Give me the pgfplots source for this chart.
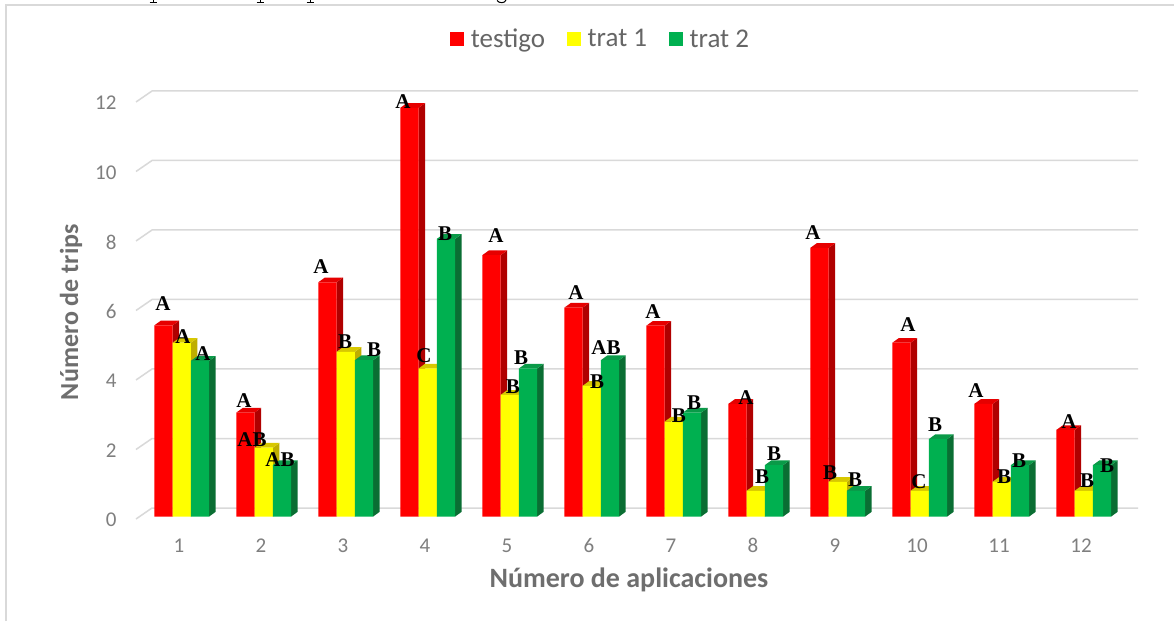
\documentclass[border=0pt]{standalone}
\usepackage{fontspec}
\usepackage{pgfplots}
\usepackage{pgfplotstable}
\pgfplotsset{compat=1.18}
\setmainfont{Carlito}
\newfontfamily\labfont{Liberation Serif}
\definecolor{tred}{HTML}{FF0000}
\definecolor{tredside}{HTML}{B00000}
\definecolor{tredtop}{HTML}{E60000}
\definecolor{tyel}{HTML}{FFFF00}
\definecolor{tyelside}{HTML}{BFAE00}
\definecolor{tyeltop}{HTML}{D8C800}
\definecolor{tgre}{HTML}{00B050}
\definecolor{tgreside}{HTML}{0A6E33}
\definecolor{tgretop}{HTML}{0A9A48}
\definecolor{gridc}{HTML}{D9D9D9}
\definecolor{tickc}{HTML}{7F7F7F}
\definecolor{titlec}{HTML}{6E6E6E}
\definecolor{legc}{HTML}{666666}
\pgfplotstableread{
group testigo trat1 trat2
1  5.50  5.00 4.48
2  2.99  1.98 1.48
3  6.74  4.74 4.50
4  11.76 4.26 7.99
5  7.52  3.50 4.26
6  6.01  3.76 4.50
7  5.49  2.73 2.99
8  3.24  0.74 1.48
9  7.73  1.00 0.74
10 5.00  0.74 2.23
11 3.24  1.00 1.48
12 2.49  0.74 1.48
}\datatab
% #1 column, #2 bar-centre shift in px, #3 side colour, #4 top colour
\newcommand{\facets}[4]{%
  \pgfplotsforeachungrouped \row in {0,...,11}{%
    \pgfplotstablegetelem{\row}{#1}\of\datatab
    \pgfmathsetmacro\vv{\pgfplotsretval}%
    \pgfmathsetmacro\xL{\row+1+(#2-9.15)/82}%
    \pgfmathsetmacro\xR{\row+1+(#2+9.15)/82}%
    \pgfmathsetmacro\xLd{\xL+0.0793}%
    \pgfmathsetmacro\xRd{\xR+0.0793}%
    \pgfmathsetmacro\vd{\vv+0.1353}%
    \edef\tmp{\noexpand\addplot[forget plot,draw=none,fill=#3,mark=none]
      coordinates {(\xR,0) (\xRd,0.1353) (\xRd,\vd) (\xR,\vv)};
      \noexpand\addplot[forget plot,draw=none,fill=#4,mark=none]
      coordinates {(\xL,\vv) (\xLd,\vd) (\xRd,\vd) (\xR,\vv)};}%
    \tmp
  }%
}
\newcommand{\gridl}[1]{%
  \pgfmathsetmacro\ga{#1-0.072}\pgfmathsetmacro\gb{#1+0.2446}%
  \edef\tmp{\noexpand\addplot[forget plot,draw=gridc,line width=1.5pt,mark=none]
    coordinates {(0.4756,\ga) (0.6707,\gb) (12.695,\gb)};}%
  \tmp
}
\begin{document}
\begin{tikzpicture}[x=1pt,y=1pt]
\useasboundingbox (0,0) rectangle (1174,621);
\fill[white] (0,0) rectangle (1174,621);
\draw[gridc,line width=2pt] (6,0) -- (6,616) -- (1174,616);
\foreach \px in {153,260,310}
  \draw[black,line width=1pt] (\px-3.5,618.5) -- (\px+3.5,618.5) (\px,618.5) -- (\px,621);
\draw[black,line width=1pt] (497,620.5) .. controls (499,617.5) and (505,617.5) .. (506,621);
\begin{axis}[
  at={(136pt,104.5pt)},anchor=south west,
  scale only axis,width=1002pt,height=417pt,
  xmin=0.4756,xmax=12.695,ymin=0,ymax=12,
  clip=false,
  axis line style={draw=none},
  major tick length=0pt,
  xtick={1,...,12},ytick={0,2,...,12},
  xtick pos=bottom,ytick pos=left,
  /pgf/number format/assume math mode=true,
  xticklabel style={font=\fontsize{21}{24}\selectfont,text=tickc,anchor=center,yshift=-29pt},
  yticklabel style={font=\fontsize{21}{24}\selectfont,text=tickc,anchor=east,xshift=-16pt,yshift=-3.5pt},
  xlabel={Número de aplicaciones},
  ylabel={Número de trips},
  xlabel style={font=\fontsize{28}{30}\selectfont\bfseries,text=titlec,at={(rel axis cs:0.492,-0.152)},anchor=center},
  ylabel style={font=\fontsize{26}{28}\selectfont\bfseries,text=titlec,at={(rel axis cs:-0.0649,0.49)},anchor=center},
  legend columns=3,
  legend style={draw=none,fill=none,at={(rel axis cs:0.4638,1.145)},anchor=center,
    font=\fontsize{27}{30}\selectfont,text=legc,
    /tikz/every odd column/.style={column sep=4.5pt},
    /tikz/every even column/.style={column sep=20pt}},
  legend image code/.code={\fill[#1] (0pt,-7pt) rectangle (14pt,7pt);},
]
\gridl{0}\gridl{2}\gridl{4}\gridl{6}\gridl{8}\gridl{10}\gridl{12}
\facets{testigo}{-15.55}{tredside}{tredtop}
\addplot[ybar,bar width=18.3pt,bar shift=-15.55pt,draw=none,fill=tred] table[x=group,y=testigo]{\datatab};
\addlegendentry{testigo}
\facets{trat1}{2.75}{tyelside}{tyeltop}
\addplot[ybar,bar width=18.3pt,bar shift=2.75pt,draw=none,fill=tyel] table[x=group,y=trat1]{\datatab};
\addlegendentry{trat 1}
\facets{trat2}{21.05}{tgreside}{tgretop}
\addplot[ybar,bar width=18.3pt,bar shift=21.05pt,draw=none,fill=tgre] table[x=group,y=trat2]{\datatab};
\addlegendentry{trat 2}
\addplot[forget plot,draw=none,mark=none,nodes near coords,point meta=explicit symbolic,
  nodes near coords style={anchor=center,inner sep=0pt,text=black,font=\labfont\bfseries\fontsize{21}{23}\selectfont}]
  table[x expr={1+(\thisrow{px}-179)/82},y expr={(516.5-\thisrow{py})/34.75},meta=lab]{
px py lab
163 304 A
183 337 A
203 354 A
244 401 A
252 440 AB
280 460 AB
321 267 A
345 342 B
374 350 B
403 102 A
424 356 C
445 234 B
496 236 A
513 387 B
521 358 B
576 293 A
597 382 B
606 348 AB
653 312 A
679 416 B
694 403 B
746 398 A
762 477 B
774 454 B
813 233 A
830 473 B
855 480 B
908 325 A
919 482 C
935 425 B
976 391 A
1004 477 B
1019 461 B
1069 422 A
1087 481 B
1107 466 B
};
\end{axis}
\end{tikzpicture}
\end{document}
